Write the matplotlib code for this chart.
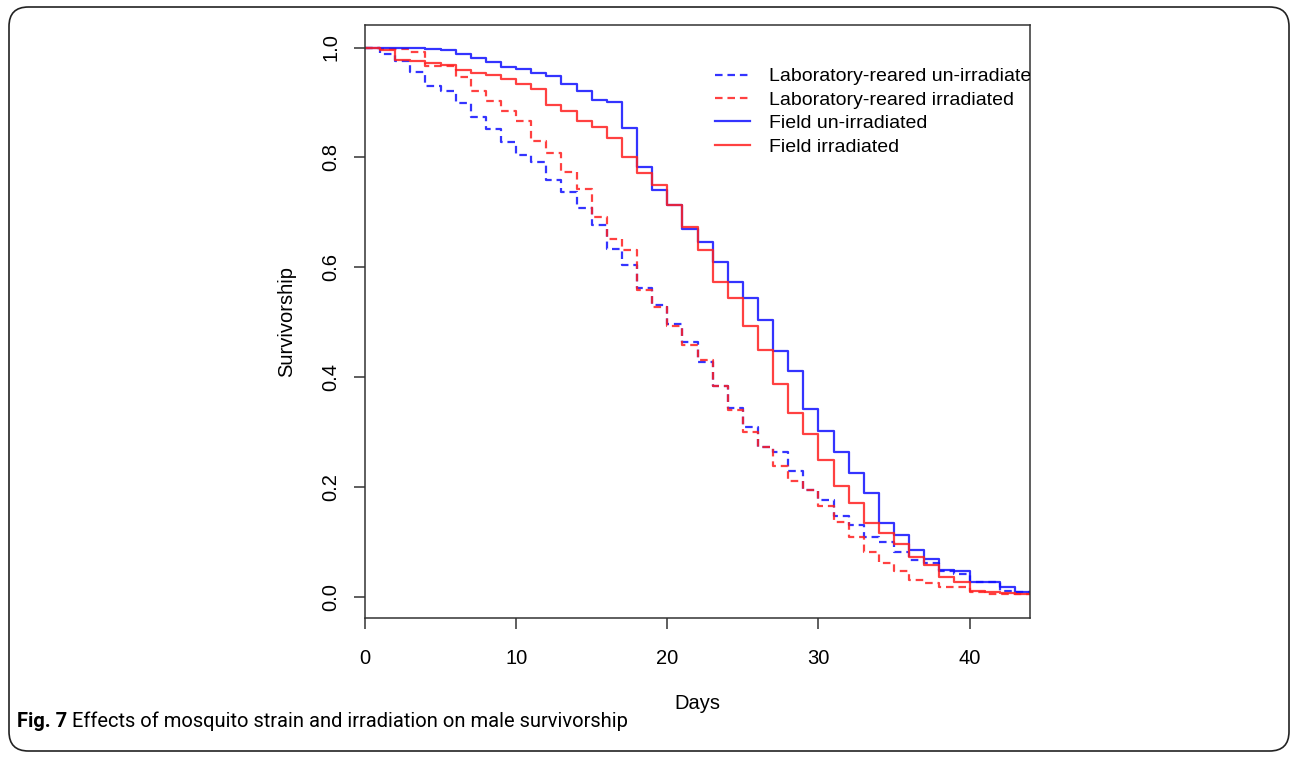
import matplotlib
matplotlib.use('Agg')
import matplotlib.pyplot as plt
from matplotlib.patches import FancyBboxPatch
import numpy as np

# Survivorship, one value per day (0..43), step after each day
days = np.arange(0, 45)

lab_unirr = [1.0, 0.988, 0.976, 0.955, 0.930, 0.921, 0.899, 0.874, 0.851, 0.828,
             0.805, 0.791, 0.759, 0.737, 0.707, 0.676, 0.633, 0.604, 0.562, 0.531,
             0.496, 0.464, 0.428, 0.383, 0.343, 0.308, 0.272, 0.264, 0.228, 0.195,
             0.175, 0.147, 0.130, 0.109, 0.099, 0.082, 0.067, 0.062, 0.046, 0.041,
             0.027, 0.026, 0.010, 0.009]
lab_irr = [1.0, 0.997, 0.997, 0.991, 0.967, 0.966, 0.947, 0.921, 0.902, 0.885,
           0.866, 0.830, 0.807, 0.773, 0.743, 0.692, 0.651, 0.632, 0.559, 0.528,
           0.493, 0.458, 0.430, 0.384, 0.340, 0.299, 0.273, 0.238, 0.210, 0.195,
           0.165, 0.135, 0.108, 0.082, 0.062, 0.046, 0.030, 0.024, 0.017, 0.017,
           0.009, 0.004, 0.004, 0.004]
field_unirr = [1.0, 1.0, 1.0, 1.0, 0.998, 0.996, 0.988, 0.981, 0.973, 0.965,
               0.961, 0.954, 0.948, 0.934, 0.920, 0.905, 0.900, 0.854, 0.782, 0.740,
               0.714, 0.670, 0.646, 0.610, 0.573, 0.543, 0.504, 0.447, 0.410, 0.341,
               0.302, 0.264, 0.225, 0.188, 0.134, 0.113, 0.084, 0.068, 0.048, 0.046,
               0.027, 0.026, 0.018, 0.009]
field_irr = [1.0, 0.995, 0.977, 0.976, 0.971, 0.969, 0.959, 0.953, 0.950, 0.943,
             0.933, 0.924, 0.895, 0.884, 0.867, 0.856, 0.836, 0.801, 0.772, 0.750,
             0.713, 0.673, 0.631, 0.573, 0.544, 0.493, 0.449, 0.387, 0.334, 0.296,
             0.249, 0.202, 0.170, 0.134, 0.116, 0.096, 0.073, 0.058, 0.036, 0.027,
             0.010, 0.009, 0.006, 0.004]

labels = ['Laboratory-reared un-irradiated', 'Laboratory-reared irradiated',
          'Field un-irradiated', 'Field irradiated']
series = [lab_unirr, lab_irr, field_unirr, field_irr]
colors = ['#1010ff', '#ff2020', '#1010ff', '#ff2020']
styles = ['dashed', 'dashed', 'solid', 'solid']

plt.rcParams['font.family'] = ['Liberation Sans', 'DejaVu Sans']

W, H = 1293, 759
fig = plt.figure(figsize=(W / 100, H / 100), dpi=100)

# axes box in pixels: left 365, right 1030, top 25, bottom 618
ax = fig.add_axes([365 / W, 1 - 618 / H, (1030 - 365) / W, (618 - 25) / H])

for vals, lab, c, ls in zip(series, labels, colors, styles):
    y = list(vals) + [vals[-1]]
    line, = ax.step(days[:len(y)], y, where='post', color=c, lw=1.6,
                    alpha=0.85, label=lab)
    if ls == 'dashed':
        line.set_dashes((3.4, 2.2))

ax.set_xlim(0, 44)
ax.set_ylim(-0.039, 1.041)
ax.set_xticks([0, 10, 20, 30, 40])
ax.set_yticks([0.0, 0.2, 0.4, 0.6, 0.8, 1.0])
ax.set_yticklabels(['0.0', '0.2', '0.4', '0.6', '0.8', '1.0'], rotation=90,
                   va='center')
ax.tick_params(length=8, width=1.1, color='#333333', labelsize=14.5)
ax.tick_params(axis='x', pad=14)
ax.tick_params(axis='y', pad=10)
for s in ax.spines.values():
    s.set_color('#333333')
    s.set_linewidth(1.1)

ax.set_xlabel('Days', fontsize=14.5, labelpad=19)
ax.set_ylabel('Survivorship', fontsize=14.5, labelpad=18)

leg = ax.legend(loc='upper left', bbox_to_anchor=(0.526, 0.928), frameon=False,
                fontsize=14, handlelength=1.8, handletextpad=1.0,
                labelspacing=0.3, borderpad=0, borderaxespad=0)
for t in leg.get_texts():
    t.set_clip_on(True)
    t.set_clip_box(ax.bbox)

# rounded frame around the whole figure
frame = FancyBboxPatch((9 / W, 8 / H), (1289 - 9) / W, (752 - 8) / H,
                       boxstyle='round,pad=0,rounding_size=0.015',
                       transform=fig.transFigure, fill=False,
                       edgecolor='#222222', lw=1.2, mutation_aspect=W / H)
fig.patches.append(frame)

cap1 = fig.text(17 / W, 1 - 727 / H, 'Fig. 7', fontsize=14.5, fontweight='bold',
                family='Roboto', va='baseline')
fig.canvas.draw()
bb = cap1.get_window_extent()
fig.text((bb.x1 + 5) / W, 1 - 727 / H,
         'Effects of mosquito strain and irradiation on male survivorship',
         fontsize=14.5, family='Roboto', va='baseline')

fig.savefig('out.png', dpi=100)
